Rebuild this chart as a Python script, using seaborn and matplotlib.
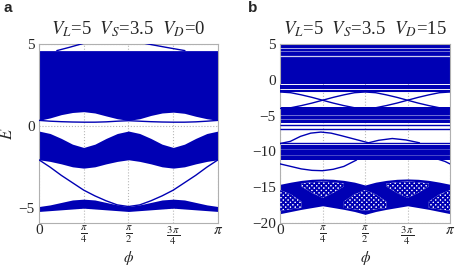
import numpy as np
import matplotlib
matplotlib.use('Agg')
import matplotlib.pyplot as plt
import seaborn as sns

# sample grid in phi (steps of pi/16)
phi = np.linspace(0, np.pi, 17)

# ---- panel a : V_D = 0 ----
a_up_hi = [4.6, 4.6, 4.6, 4.6, 4.6, 4.6, 4.6, 4.6, 4.6, 4.6, 4.6, 4.6, 4.6, 4.6, 4.6, 4.6, 4.6]
a_up_lo = [0.35, 0.5, 0.7, 0.83, 0.88, 0.8, 0.62, 0.45, 0.35, 0.45, 0.65, 0.8, 0.85, 0.78, 0.6, 0.45, 0.35]
a_gap_line = [0.35, 0.3, 0.27, 0.25, 0.24, 0.24, 0.26, 0.3, 0.33, 0.3, 0.27, 0.25, 0.24, 0.24, 0.26, 0.3, 0.35]
a_mid_hi = [-0.3, -0.45, -0.75, -1.1, -1.3, -1.1, -0.75, -0.45, -0.3, -0.45, -0.75, -1.1, -1.3, -1.1, -0.75, -0.45, -0.3]
a_mid_lo = [-2.05, -2.15, -2.3, -2.48, -2.56, -2.48, -2.3, -2.15, -2.05, -2.15, -2.3, -2.48, -2.56, -2.48, -2.3, -2.15, -2.05]
a_v_line = [-2.05, -2.5, -3.0, -3.45, -3.9, -4.25, -4.55, -4.8, -4.9, -4.8, -4.55, -4.25, -3.9, -3.45, -3.0, -2.5, -2.05]
a_low_hi = [-4.9, -4.8, -4.65, -4.5, -4.45, -4.5, -4.65, -4.8, -4.9, -4.8, -4.65, -4.5, -4.45, -4.5, -4.65, -4.8, -4.9]
a_low_lo = [-5.2, -5.15, -5.1, -5.05, -5.0, -5.05, -5.1, -5.15, -5.2, -5.15, -5.1, -5.05, -5.0, -5.05, -5.1, -5.15, -5.2]
a_arc_phi = np.array([0.10, 0.17, 0.235, 0.3, 0.42, 0.52, 0.61, 0.71, 0.815]) * np.pi
a_arc_E = [4.6, 4.8, 5.0, 5.2, 5.3, 5.2, 5.0, 4.8, 4.6]

# ---- panel b : V_D = 15 ----
b_top_hi = [5.5] * 17
b_top_lo = [-0.6] * 17
b_top_gaps = [4.5, 4.05, 3.4]
b_top_lines = [-0.85, -1.2, -1.55]
b_cross1 = [-1.7, -1.8, -2.1, -2.45, -2.85, -3.25, -3.6, -3.9, -4.0, -3.9, -3.6, -3.25, -2.85, -2.45, -2.1, -1.8, -1.7]
b_cross2 = [-4.0, -3.9, -3.6, -3.25, -2.85, -2.45, -2.1, -1.8, -1.7, -1.8, -2.1, -2.45, -2.85, -3.25, -3.6, -3.9, -4.0]
b_blk_hi = [-3.8] * 17
b_blk_lo = [-6.1] * 17
b_blk_gaps = [-4.9, -5.5]
b_mid_lines = [-6.3, -6.85, -8.85]
b_arc_phi = np.array([0.0, 0.06, 0.12, 0.18, 0.24, 0.3, 0.36, 0.44, 0.52, 0.58, 0.66, 0.74, 0.82]) * np.pi
b_arc_E = [-8.9, -8.6, -7.9, -7.45, -7.3, -7.45, -7.8, -8.3, -8.8, -8.45, -8.2, -8.4, -8.8]
b_band_hi = [-9.1] * 17
b_band_lo = [-11.2] * 17
b_band_gaps = [-9.7, -10.5]
b_low_phi = np.array([0.0, 0.0625, 0.125, 0.1875, 0.25, 0.3125, 0.375, 0.45]) * np.pi
b_low_E = [-11.75, -12.1, -12.45, -12.65, -12.7, -12.5, -12.1, -11.2]
b_low2_phi = np.array([0.93, 0.97, 1.0]) * np.pi
b_low2_E = [-11.1, -11.4, -11.75]
b_bot_hi = [-14.6, -14.3, -14.05, -13.9, -13.85, -13.9, -14.05, -14.3, -14.7, -14.3, -14.05, -13.9, -13.85, -13.9, -14.05, -14.3, -14.6]
b_bot_lo = [-18.7, -18.4, -18.1, -17.85, -17.6, -17.85, -18.1, -18.4, -18.8, -18.4, -18.1, -17.85, -17.6, -17.85, -18.1, -18.4, -18.7]
nan = np.nan
b_lobeU_hi = [nan, nan, -14.5, -14.3, -14.2, -14.3, -14.5, nan, nan, nan, -14.5, -14.3, -14.2, -14.3, -14.5, nan, nan]
b_lobeU_lo = [nan, nan, -14.9, -15.8, -16.5, -15.8, -14.9, nan, nan, nan, -14.9, -15.8, -16.5, -15.8, -14.9, nan, nan]
b_lobeL_hi = [-15.4, -16.0, -17.0, nan, nan, nan, -17.0, -16.0, -15.4, -16.0, -17.0, nan, nan, nan, -17.0, -16.0, -15.4]
b_lobeL_lo = [-18.3, -18.1, -17.9, nan, nan, nan, -17.9, -18.1, -18.3, -18.1, -17.9, nan, nan, nan, -17.9, -18.1, -18.3]

xt = [0, np.pi / 4, np.pi / 2, 3 * np.pi / 4, np.pi]
xtl = ['0', r'$\frac{\pi}{4}$', r'$\frac{\pi}{2}$', r'$\frac{3\,\pi}{4}$', r'$\pi$']

blue = '#0000b4'

sns.set_theme(style='white')
plt.rcParams['font.family'] = ['Liberation Serif', 'DejaVu Serif']
plt.rcParams['mathtext.fontset'] = 'stix'
plt.rcParams['hatch.linewidth'] = 1.3

fig = plt.figure(figsize=(4.63, 2.67), dpi=100)
ax1 = fig.add_axes([0.084, 0.165, 0.387, 0.670])
ax2 = fig.add_axes([0.605, 0.165, 0.367, 0.670])


def style(ax, yt, ylim):
    ax.set_xlim(0, np.pi)
    ax.set_ylim(*ylim)
    ax.set_xticks(xt)
    ax.set_xticklabels(xtl)
    ax.set_yticks(yt)
    ax.set_yticklabels([str(v).replace('-', '\u2212') for v in yt])
    ax.tick_params(length=0, pad=3)
    ax.tick_params(axis='y', labelsize=11)
    ax.tick_params(axis='x', labelsize=11, pad=1)
    ax.grid(True, color='#b8b8b8', linestyle=':', linewidth=0.8)
    ax.set_axisbelow(True)
    for s in ax.spines.values():
        s.set_color('#b0b0b0')
        s.set_linewidth(0.8)
    ax.set_xlabel(r'$\phi$', fontsize=11)
    ax.xaxis.set_label_coords(0.5, -0.145)


# panel a
ax1.fill_between(phi, a_up_lo, a_up_hi, color=blue, lw=0, zorder=2)
ax1.fill_between(phi, a_mid_lo, a_mid_hi, color=blue, lw=0, zorder=2)
ax1.fill_between(phi, a_low_lo, a_low_hi, color=blue, lw=0, zorder=2)
sns.lineplot(x=phi, y=a_gap_line, color=blue, lw=1.0, ax=ax1, zorder=3)
sns.lineplot(x=phi, y=a_v_line, color=blue, lw=1.0, ax=ax1, zorder=3)
sns.lineplot(x=a_arc_phi, y=a_arc_E, color=blue, lw=1.0, ax=ax1, zorder=3)
style(ax1, [-5, 0, 5], (-5.9, 5))
ax1.set_ylabel('$E$', fontsize=12, labelpad=2)
ax1.set_title(r'$V_L$=5  $V_S$=3.5  $V_D$=0', fontsize=13.5, pad=7)

# panel b
ax2.fill_between(phi, b_top_lo, b_top_hi, color=blue, lw=0, zorder=2)
ax2.hlines(b_top_gaps, 0, np.pi, color='white', lw=[0.6, 0.4, 0.9], alpha=0.8, zorder=3)
ax2.hlines(b_top_lines, 0, np.pi, color=blue, lw=1.5, zorder=3)
sns.lineplot(x=phi, y=b_cross1, color=blue, lw=1.0, ax=ax2, zorder=3)
sns.lineplot(x=phi, y=b_cross2, color=blue, lw=1.0, ax=ax2, zorder=3)
ax2.fill_between(phi, b_blk_lo, b_blk_hi, color=blue, lw=0, zorder=2)
ax2.hlines(b_blk_gaps, 0, np.pi, color='white', lw=0.5, alpha=0.6, zorder=3)
ax2.hlines(b_mid_lines, 0, np.pi, color=blue, lw=1.0, zorder=3)
sns.lineplot(x=b_arc_phi, y=b_arc_E, color=blue, lw=1.0, ax=ax2, zorder=3)
ax2.fill_between(phi, b_band_lo, b_band_hi, color=blue, lw=0, zorder=2)
ax2.hlines(b_band_gaps, 0, np.pi, color='white', lw=0.4, alpha=0.5, zorder=3)
sns.lineplot(x=b_low_phi, y=b_low_E, color=blue, lw=1.0, ax=ax2, zorder=3)
sns.lineplot(x=b_low2_phi, y=b_low2_E, color=blue, lw=1.0, ax=ax2, zorder=3)
ax2.fill_between(phi, b_bot_lo, b_bot_hi, color=blue, lw=0, zorder=2)
for hi, lo in [(b_lobeU_hi, b_lobeU_lo), (b_lobeL_hi, b_lobeL_lo)]:
    ax2.fill_between(phi, lo, hi, facecolor='white', edgecolor=blue, hatch='xxxxxxx',
                     lw=0, zorder=3)
style(ax2, [-20, -15, -10, -5, 0, 5], (-20, 5))
ax2.set_title(r'$V_L$=5  $V_S$=3.5  $V_D$=15', fontsize=13.5, pad=7)

fig.text(0.008, 0.955, 'a', fontsize=11, fontweight='bold', family='Liberation Sans')
fig.text(0.535, 0.955, 'b', fontsize=11, fontweight='bold', family='Liberation Sans')

fig.savefig('out.png', dpi=100)
